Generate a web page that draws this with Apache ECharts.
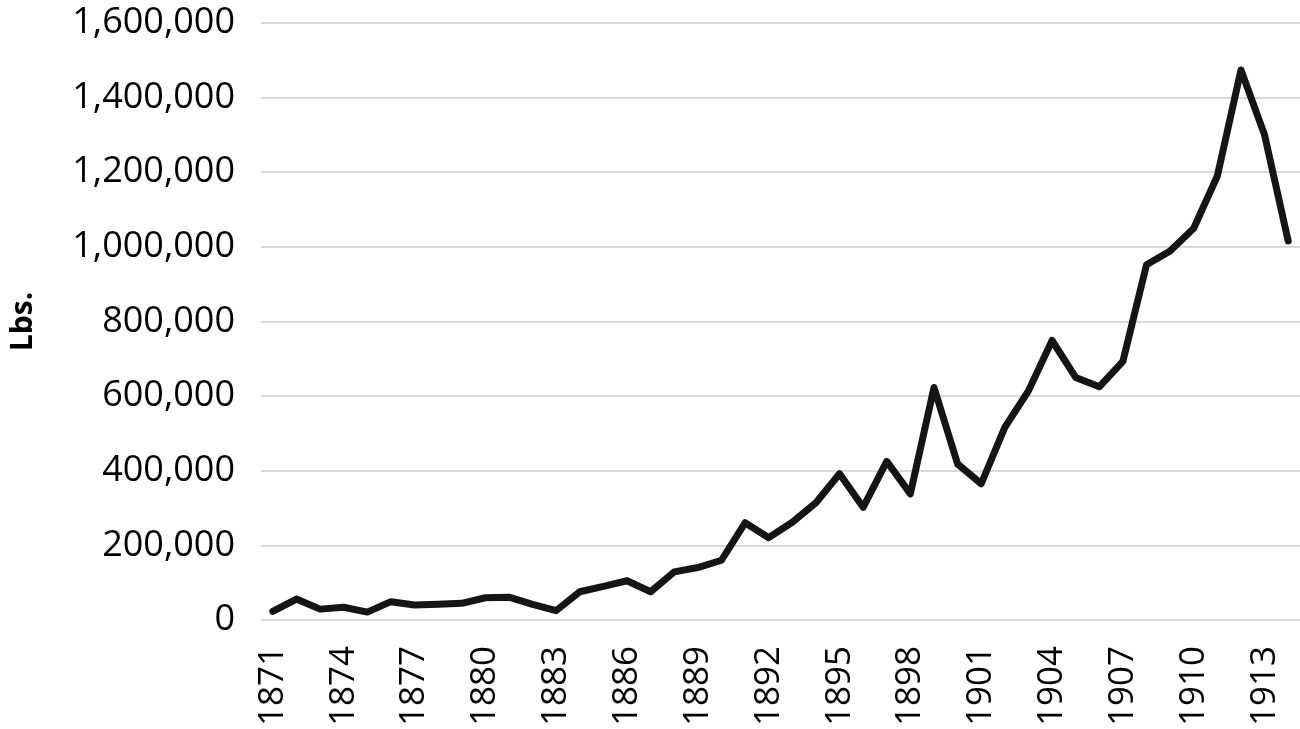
<!DOCTYPE html>
<html>
<head>
<meta charset="utf-8">
<script src="https://cdn.jsdelivr.net/npm/echarts@6/dist/echarts.min.js"></script>
<style>
html,body{margin:0;padding:0;background:#fff;}
#chart{width:1300px;height:729px;}
</style>
</head>
<body>
<div id="chart"></div>
<script>
const years = ['1871','1872','1873','1874','1875','1876','1877','1878','1879','1880',
  '1881','1882','1883','1884','1885','1886','1887','1888','1889','1890',
  '1891','1892','1893','1894','1895','1896','1897','1898','1899','1900',
  '1901','1902','1903','1904','1905','1906','1907','1908','1909','1910',
  '1911','1912','1913','1914'];
const lbs = [23000, 56000, 29000, 34000, 21000, 49000, 40000, 42000, 44500, 59500,
  61000, 42000, 25000, 75500, 90000, 105000, 75500, 129000, 140500, 160000,
  260500, 220500, 262000, 314000, 392000, 302000, 425000, 338000, 623000, 418000,
  365000, 516000, 614000, 749000, 650000, 625000, 693000, 952000, 989000, 1050000,
  1190000, 1474000, 1300000, 1016000];
const yTicks = {min: 0, max: 1600000, interval: 200000};

const chart = echarts.init(document.getElementById('chart'));
const font = 'Open Sans';
chart.setOption({
  animation: false,
  grid: {left: 255, right: 0, top: 23, bottom: 108, containLabel: false},
  xAxis: {
    type: 'category',
    data: years,
    boundaryGap: true,
    axisLine: {show: false},
    axisTick: {show: false},
    axisLabel: {
      interval: 2,
      rotate: 90,
      margin: 26,
      color: '#000',
      fontFamily: font,
      fontSize: 35
    }
  },
  yAxis: {
    type: 'value',
    min: yTicks.min, max: yTicks.max, interval: yTicks.interval,
    name: 'Lbs.',
    nameLocation: 'middle',
    nameGap: 223,
    nameTextStyle: {color: '#000', fontFamily: font, fontSize: 30, fontWeight: 'bold'},
    axisLine: {show: false},
    axisTick: {show: false},
    splitLine: {lineStyle: {color: '#d9d9d9', width: 2}},
    axisLabel: {
      margin: 26,
      color: '#000',
      fontFamily: font,
      fontSize: 36,
      formatter: v => v.toLocaleString('en-US')
    }
  },
  series: [{
    type: 'line',
    data: lbs,
    symbol: 'none',
    lineStyle: {color: '#151515', width: 7, cap: 'round', join: 'round'}
  }]
});
</script>
</body>
</html>
